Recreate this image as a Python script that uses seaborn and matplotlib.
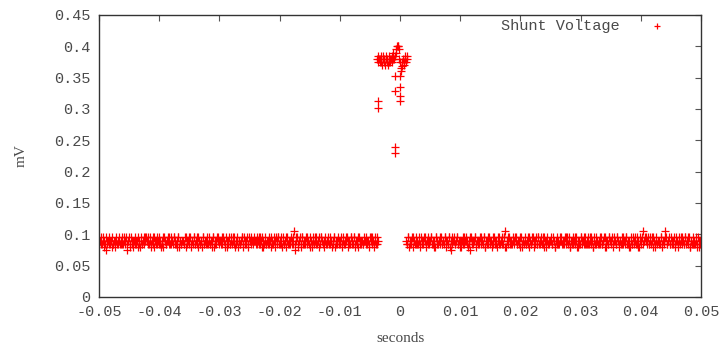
import numpy as np
import pandas as pd
import matplotlib
matplotlib.use("Agg")
import matplotlib.pyplot as plt
import seaborn as sns

# ---------------------------------------------------------------
# datos: línea base cuantizada (códigos de nivel leídos a ojo)
# ---------------------------------------------------------------
niveles = [0.075, 0.080, 0.085, 0.090, 0.095, 0.100, 0.105]
paso = 0.0002
medio_paso = 0.0001

inicio_izq = -0.05
codigos_izq = (
    "2324320342" "3123423324" "2430342313" "2342132434" "3241324323"
    "4231432342" "2343214323" "3242341324" "2413234232" "4323142343"
    "2324313242" "3421343234" "1324234323" "2432413242" "3234231434"
    "2413243232" "3260423414" "2342313243" "4231432342" "3243241323"
    "2413234324" "3242314232" "4323243413" "24"
)
# muestras intermedias (desplazadas medio paso)
codigos_izq_b = (
    "3423142323" "4231324232" "3242314234" "2313423243" "4232413242"
    "3124323424" "3242341323" "2413242342" "3242314232" "2423413243"
    "3243241324" "2342313242" "4231432343" "3242341323" "2413243242"
    "3242314234" "2423413242" "3243241324" "2342431323" "4231342342"
    "3242341324" "2413243232" "3423142324" "23"
)

inicio_der = 0.001
codigos_der = (
    "3242341323" "2413243242" "3423142324" "2341324043" "3242313423"
    "4230423413" "2343241324" "3124323423" "2461342324" "3423241323"
    "2413243242" "4232413423" "3243123243" "2342431324" "4313242342"
    "2423413243" "3242341324" "2413243232" "4324231423" "3241324634"
    "2423413243" "3242364232" "4231432342" "3243241323" "241324"
)
codigos_der_b = (
    "2413243242" "3242341323" "4231432342" "3243241324" "2342313243"
    "3124323423" "2423413242" "3242314234" "2413243232" "4323142342"
    "3242341324" "2342431323" "4231342342" "3243241323" "2413243242"
    "3242314232" "2423413243" "3243241324" "2342313242" "4231432343"
    "3242341323" "2413242342" "3242314234" "2423413242" "324132"
)

# pico alrededor de t = 0
pico_t = [-0.0037, -0.0037,
          -0.0038, -0.0037, -0.0036, -0.0035, -0.0034, -0.0033, -0.0032,
          -0.0031, -0.0030, -0.0029, -0.0028, -0.0027, -0.0026, -0.0025,
          -0.0024, -0.0023, -0.0022, -0.0021, -0.0020, -0.0019, -0.0018,
          -0.0017, -0.0016, -0.0015, -0.0014, -0.0013, -0.0012, -0.0011,
          -0.0010, -0.0009, -0.0009, -0.0009, -0.0009, -0.0008, -0.0007,
          -0.0006, -0.0005, -0.0004, -0.0003, -0.0002, -0.0001,
          0.0, 0.0, 0.0, 0.0, 0.0,
          0.0001, 0.0002, 0.0003, 0.0004, 0.0005, 0.0006, 0.0007,
          0.0008, 0.0009, 0.0010, 0.0011, 0.0012]
pico_v = [0.313, 0.302,
          0.380, 0.375, 0.385, 0.380, 0.375, 0.380, 0.385,
          0.375, 0.370, 0.380, 0.385, 0.375, 0.380, 0.370,
          0.380, 0.385, 0.375, 0.380, 0.370, 0.375, 0.385,
          0.380, 0.375, 0.380, 0.385, 0.375, 0.380, 0.390,
          0.380, 0.352, 0.329, 0.240, 0.230, 0.385, 0.390,
          0.395, 0.400, 0.400, 0.400, 0.395, 0.380,
          0.375, 0.352, 0.335, 0.320, 0.312,
          0.360, 0.365, 0.368, 0.375, 0.380, 0.370, 0.375,
          0.380, 0.385, 0.375, 0.380, 0.385]

x_ticks = [-0.05, -0.04, -0.03, -0.02, -0.01, 0, 0.01, 0.02, 0.03, 0.04, 0.05]
x_labels = ["-0.05", "-0.04", "-0.03", "-0.02", "-0.01", "0",
            "0.01", "0.02", "0.03", "0.04", "0.05"]
y_ticks = [0, 0.05, 0.1, 0.15, 0.2, 0.25, 0.3, 0.35, 0.4, 0.45]
y_labels = ["0", "0.05", "0.1", "0.15", "0.2", "0.25", "0.3", "0.35", "0.4", "0.45"]

# ---------------------------------------------------------------
# armar tabla
# ---------------------------------------------------------------
def tramo(inicio, codigos):
    t = inicio + paso * np.arange(len(codigos))
    v = [niveles[int(c)] for c in codigos]
    return t, v

t1, v1 = tramo(inicio_izq, codigos_izq)
t2, v2 = tramo(inicio_izq + medio_paso, codigos_izq_b)
t3, v3 = tramo(inicio_der, codigos_der)
t4, v4 = tramo(inicio_der + medio_paso, codigos_der_b)

df = pd.DataFrame({
    "t": np.concatenate([t1, t2, pico_t, t3, t4]),
    "v": np.concatenate([v1, v2, pico_v, v3, v4]),
})

# ---------------------------------------------------------------
# gráfico
# ---------------------------------------------------------------
sns.set_style("white")
texto = "#4a4a4a"
rojo = "#ff0000"

fig = plt.figure(figsize=(7.23, 3.49), dpi=100)
ax = fig.add_axes([99 / 723, 1 - 297 / 349, 602 / 723, 282 / 349])

sns.scatterplot(
    data=df, x="t", y="v", ax=ax,
    marker="+", color=rojo, s=30, linewidth=0.9,
    label="Shunt Voltage"
)

ax.set_xlim(-0.05, 0.05)
ax.set_ylim(0, 0.45)
ax.set_xticks(x_ticks)
ax.set_xticklabels(x_labels, family="Liberation Mono", fontsize=11, color=texto)
ax.set_yticks(y_ticks)
ax.set_yticklabels(y_labels, family="Liberation Mono", fontsize=11, color=texto)
ax.tick_params(direction="in", length=4, width=0.8, color="#555555",
               top=True, right=True, pad=6)

ax.set_xlabel("seconds", family="Liberation Serif", fontsize=11, color=texto, labelpad=9)
ax.set_ylabel("mV", family="Liberation Serif", fontsize=11, color=texto, labelpad=19)

for s in ax.spines.values():
    s.set_visible(True)
    s.set_color("#333333")
    s.set_linewidth(1.0)

leg = ax.legend(loc="upper right", bbox_to_anchor=(0.949, 1.009),
                frameon=False, markerfirst=False, markerscale=0.7,
                handlelength=1.0, handletextpad=1.9, borderaxespad=0,
                prop={"family": "Liberation Mono", "size": 11})
for txt in leg.get_texts():
    txt.set_color(texto)

fig.savefig("out.png", dpi=100)
